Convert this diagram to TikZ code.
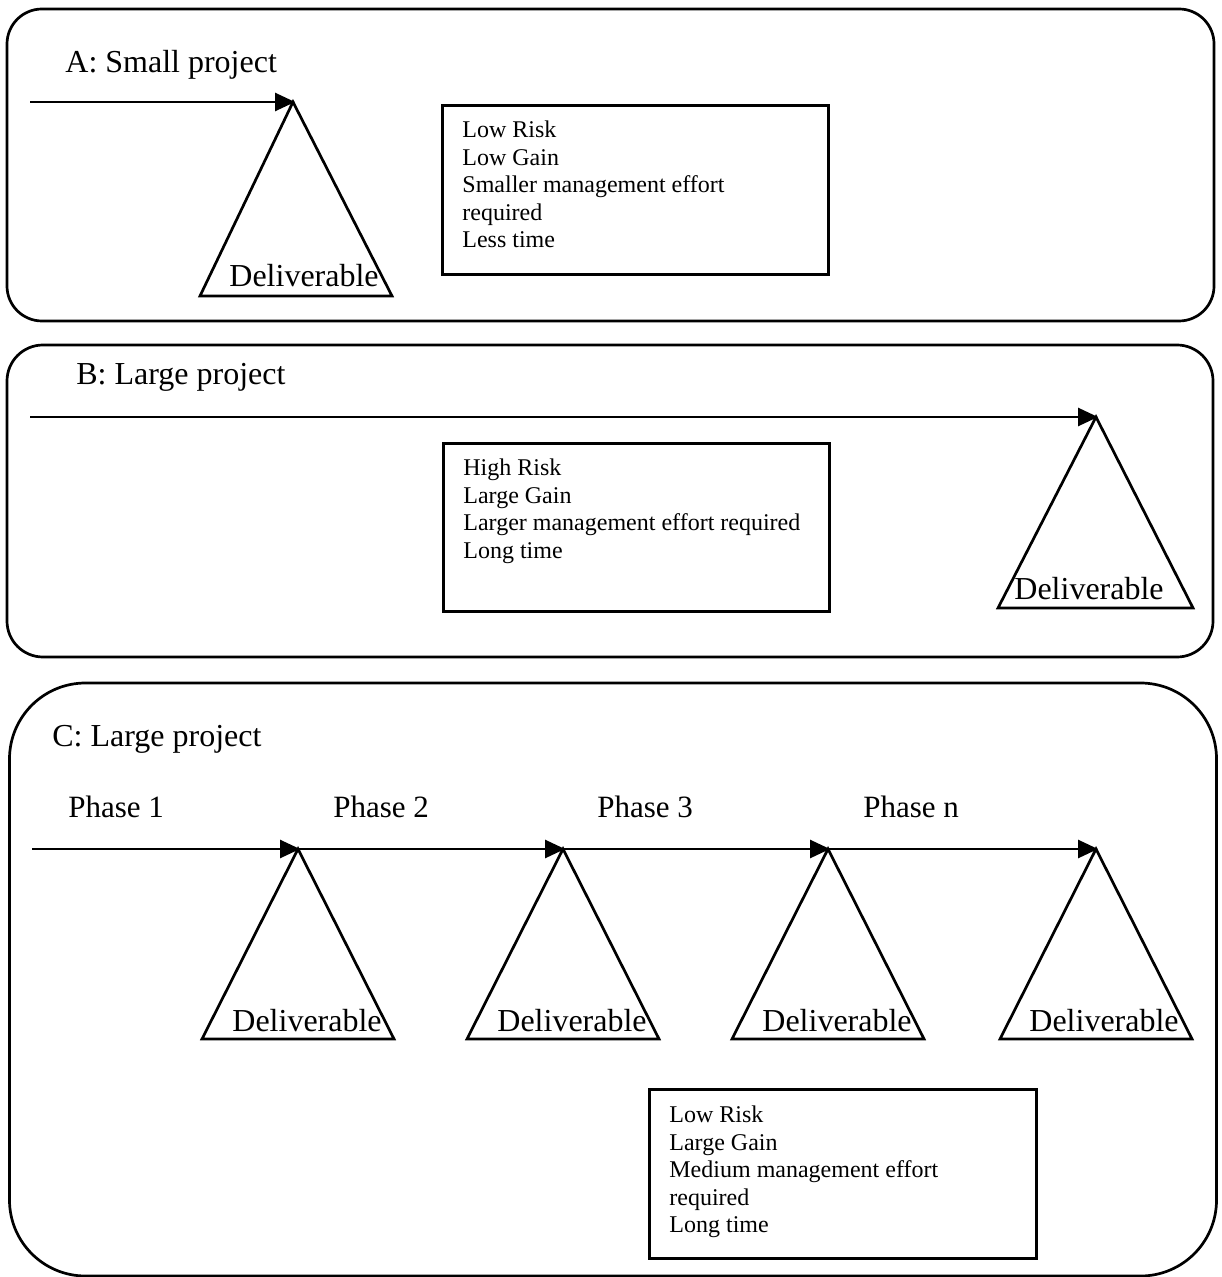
\documentclass[tikz,border=0pt]{standalone}
\usepackage{fontspec}
\setmainfont{Liberation Serif}
\usetikzlibrary{arrows.meta}
\begin{document}
\begin{tikzpicture}[x=0.5pt,y=-0.5pt,
  panel/.style={draw, line width=1.35pt},
  infobox/.style={draw, line width=1.35pt},
  tri/.style={draw, line width=1.35pt, line join=miter},
  arr/.style={line width=1.35pt, -{Triangle[length=10pt,width=9pt]}, shorten >=-1pt},
  title/.style={anchor=base west, inner sep=0pt, font=\fontsize{16}{19}\selectfont},
  phase/.style={anchor=base west, inner sep=0pt, font=\fontsize{15.5}{18}\selectfont},
  deliv/.style={anchor=base west, inner sep=0pt, font=\fontsize{16}{19}\selectfont},
  info/.style={anchor=north west, inner sep=0pt, align=left, font=\fontsize{12}{13.75}\selectfont}]
\useasboundingbox (0,0) rectangle (1221,1277);

% ---------- Panel A ----------
\draw[panel, rounded corners=17.5pt] (7,9) rectangle (1214,321);
\node[title] (ta) at (65,73) {A: Small project};
\coordinate (sa) at (30,102);
\coordinate (pa) at (293,102);
\draw[tri] (pa) -- (200,296) -- (392,296) -- cycle;
\draw[arr] (sa) -- (pa);
\node[deliv] (da) at (229,287) {Deliverable};
\node[infobox, minimum width=193pt, minimum height=84.5pt, anchor=north west, inner sep=0pt] (ba) at (441,104) {};
\node[info] (ia) at (462,120.5) {Low Risk\\Low Gain\\Smaller management effort\\required\\Less time};

% ---------- Panel B ----------
\draw[panel, rounded corners=18pt] (7,345) rectangle (1213,657);
\node[title] (tb) at (76,385) {B: Large project};
\coordinate (sb) at (30,417);
\coordinate (pb) at (1096,417);
\draw[tri] (pb) -- (998,608) -- (1193,608) -- cycle;
\draw[arr] (sb) -- (pb);
\node[deliv] (db) at (1014,599) {Deliverable};
\node[infobox, minimum width=193pt, minimum height=84pt, anchor=north west, inner sep=0pt] (bb) at (442,442) {};
\node[info] (ib) at (463,458.5) {High Risk\\Large Gain\\Larger management effort required\\Long time};

% ---------- Panel C ----------
\draw[panel, rounded corners=38pt] (9.5,683) rectangle (1216.5,1276);
\node[title] (tc) at (52,746) {C: Large project};
\node[phase] (ph1) at (68,817) {Phase 1};
\node[phase] (ph2) at (333,817) {Phase 2};
\node[phase] (ph3) at (597,817) {Phase 3};
\node[phase] (phn) at (863,817) {Phase n};
\coordinate (sc) at (32,849);
\coordinate (p1) at (298,849);
\coordinate (p2) at (563,849);
\coordinate (p3) at (828,849);
\coordinate (p4) at (1096,849);
\foreach \p in {p1,p2,p3,p4}{
  \draw[tri] (\p) -- ++(-96,190) -- ++(192,0) -- cycle;
}
\draw[arr] (sc) -- (p1);
\draw[arr] (p1) -- (p2);
\draw[arr] (p2) -- (p3);
\draw[arr] (p3) -- (p4);
\node[deliv] (d1) at (232,1031) {Deliverable};
\node[deliv] (d2) at (497,1031) {Deliverable};
\node[deliv] (d3) at (762,1031) {Deliverable};
\node[deliv] (d4) at (1029,1031) {Deliverable};
\node[infobox, minimum width=193.5pt, minimum height=84.5pt, anchor=north west, inner sep=0pt] (bc) at (648,1088) {};
\node[info] (ic) at (669,1105.5) {Low Risk\\Large Gain\\Medium management effort\\required\\Long time};
\end{tikzpicture}
\end{document}
